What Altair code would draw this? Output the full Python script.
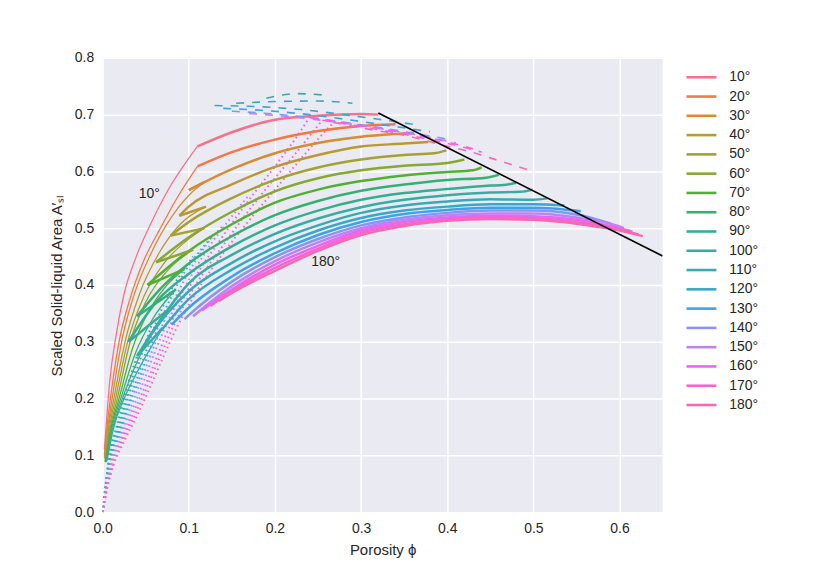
import math
import pandas as pd
import altair as alt

# ---------------- data ----------------
ANGLES = [10, 20, 30, 40, 50, 60, 70, 80, 90, 100, 110, 120, 130, 140, 150, 160, 170, 180]
LABELS = [f"{a}°" for a in ANGLES]

# thick (main) branches
main_010 = [(0.110, 0.644), (0.150, 0.669), (0.200, 0.691), (0.250, 0.698), (0.300, 0.701), (0.320, 0.700)]
main_020 = [(0.110, 0.609), (0.150, 0.634), (0.200, 0.656), (0.250, 0.671), (0.300, 0.680), (0.340, 0.683)]
main_030 = [(0.100, 0.567), (0.150, 0.604), (0.200, 0.632), (0.250, 0.650), (0.300, 0.661), (0.340, 0.666), (0.361, 0.668)]
main_040 = [(0.089, 0.522), (0.100, 0.538), (0.150, 0.577), (0.200, 0.608), (0.250, 0.629), (0.300, 0.644), (0.350, 0.649), (0.378, 0.652)]
main_050 = [(0.079, 0.487), (0.100, 0.511), (0.150, 0.553), (0.200, 0.585), (0.250, 0.607), (0.300, 0.621), (0.350, 0.629), (0.385, 0.632), (0.399, 0.637)]
main_060 = [(0.062, 0.440), (0.100, 0.484), (0.150, 0.529), (0.200, 0.565), (0.250, 0.588), (0.300, 0.602), (0.350, 0.610), (0.400, 0.615), (0.420, 0.621)]
main_070 = [(0.052, 0.400), (0.100, 0.460), (0.150, 0.507), (0.200, 0.545), (0.250, 0.568), (0.300, 0.583), (0.350, 0.593), (0.400, 0.599), (0.430, 0.602), (0.440, 0.607)]
main_080 = [(0.040, 0.345), (0.070, 0.398), (0.100, 0.438), (0.150, 0.486), (0.200, 0.523), (0.250, 0.548), (0.300, 0.566), (0.350, 0.577), (0.400, 0.585), (0.445, 0.589), (0.460, 0.594)]
main_090 = [(0.030, 0.300), (0.065, 0.375), (0.100, 0.420), (0.150, 0.468), (0.200, 0.505), (0.250, 0.531), (0.300, 0.550), (0.350, 0.562), (0.400, 0.569), (0.450, 0.575), (0.465, 0.576), (0.480, 0.580)]
main_100 = [(0.040, 0.275), (0.070, 0.345), (0.100, 0.403), (0.150, 0.453), (0.200, 0.490), (0.250, 0.517), (0.300, 0.537), (0.350, 0.550), (0.400, 0.558), (0.450, 0.563), (0.485, 0.564), (0.499, 0.568)]
main_110 = [(0.050, 0.300), (0.075, 0.350), (0.100, 0.389), (0.150, 0.439), (0.200, 0.477), (0.250, 0.505), (0.300, 0.527), (0.350, 0.540), (0.400, 0.547), (0.450, 0.551), (0.500, 0.550), (0.517, 0.553)]
main_120 = [(0.068, 0.320), (0.100, 0.375), (0.150, 0.427), (0.200, 0.466), (0.250, 0.496), (0.300, 0.518), (0.350, 0.531), (0.400, 0.538), (0.450, 0.542), (0.500, 0.542), (0.536, 0.540)]
main_130 = [(0.080, 0.330), (0.100, 0.360), (0.150, 0.415), (0.200, 0.456), (0.250, 0.488), (0.300, 0.511), (0.350, 0.525), (0.400, 0.532), (0.450, 0.536), (0.500, 0.536), (0.555, 0.530)]
main_140 = [(0.095, 0.340), (0.100, 0.347), (0.150, 0.406), (0.200, 0.449), (0.250, 0.481), (0.300, 0.505), (0.350, 0.519), (0.400, 0.527), (0.450, 0.531), (0.500, 0.531), (0.550, 0.524), (0.590, 0.508)]
main_150 = [(0.105, 0.345), (0.150, 0.398), (0.200, 0.442), (0.250, 0.475), (0.300, 0.500), (0.350, 0.515), (0.400, 0.523), (0.450, 0.526), (0.500, 0.526), (0.550, 0.519), (0.600, 0.503), (0.605, 0.500)]
main_160 = [(0.115, 0.355), (0.150, 0.392), (0.200, 0.436), (0.250, 0.469), (0.300, 0.496), (0.350, 0.511), (0.400, 0.519), (0.450, 0.522), (0.500, 0.521), (0.550, 0.515), (0.600, 0.500), (0.615, 0.494)]
main_170 = [(0.125, 0.363), (0.150, 0.389), (0.200, 0.430), (0.250, 0.464), (0.300, 0.492), (0.350, 0.507), (0.400, 0.516), (0.450, 0.519), (0.500, 0.518), (0.550, 0.511), (0.600, 0.498), (0.622, 0.489)]
main_180 = [(0.135, 0.372), (0.150, 0.386), (0.200, 0.425), (0.250, 0.460), (0.300, 0.488), (0.350, 0.504), (0.400, 0.513), (0.450, 0.516), (0.500, 0.515), (0.550, 0.508), (0.600, 0.496), (0.627, 0.486)]

# short thick "return" pieces (the zig-zags at the left)
zig_030 = [(0.100, 0.567), (0.118, 0.581)]
zig_040 = [(0.089, 0.522), (0.120, 0.538)]
zig_050 = [(0.079, 0.487), (0.118, 0.500)]
zig_060 = [(0.062, 0.440), (0.105, 0.462)]
zig_070 = [(0.052, 0.400), (0.095, 0.428)]
zig_080 = [(0.040, 0.345), (0.085, 0.392)]
zig_090 = [(0.030, 0.300), (0.075, 0.355)]
zig_100 = [(0.040, 0.275), (0.070, 0.325)]

# thin branches near the origin
thin_010 = [(0.002, 0.110), (0.004, 0.151), (0.008, 0.227), (0.016, 0.315), (0.025, 0.385), (0.039, 0.450), (0.054, 0.502), (0.074, 0.562), (0.110, 0.644)]
thin_020 = [(0.002, 0.100), (0.005, 0.150), (0.009, 0.200), (0.019, 0.300), (0.031, 0.372), (0.048, 0.444), (0.066, 0.497), (0.087, 0.555), (0.110, 0.609)]
thin_030 = [(0.002, 0.095), (0.006, 0.150), (0.011, 0.200), (0.022, 0.300), (0.037, 0.385), (0.056, 0.455), (0.080, 0.520), (0.100, 0.558), (0.118, 0.581)]
thin_040 = [(0.003, 0.092), (0.007, 0.150), (0.013, 0.200), (0.026, 0.300), (0.043, 0.385), (0.065, 0.455), (0.090, 0.507), (0.120, 0.538)]
thin_050 = [(0.003, 0.090), (0.008, 0.150), (0.015, 0.200), (0.029, 0.300), (0.048, 0.380), (0.072, 0.440), (0.095, 0.475), (0.118, 0.500)]
thin_060 = [(0.003, 0.088), (0.009, 0.150), (0.017, 0.200), (0.032, 0.300), (0.050, 0.370), (0.075, 0.425), (0.105, 0.462)]
thin_070 = [(0.003, 0.088), (0.010, 0.150), (0.019, 0.200), (0.035, 0.290), (0.052, 0.350), (0.072, 0.395), (0.095, 0.428)]
thin_080 = [(0.004, 0.088), (0.011, 0.150), (0.021, 0.200), (0.038, 0.280), (0.058, 0.340), (0.085, 0.392)]
thin_090 = [(0.004, 0.090), (0.012, 0.150), (0.023, 0.200), (0.040, 0.265), (0.058, 0.315), (0.075, 0.355)]
thin_100 = [(0.005, 0.090), (0.013, 0.150), (0.025, 0.200), (0.043, 0.255), (0.070, 0.325)]

# dotted branches
dot_090 = [(0.000, 0.000), (0.004, 0.056), (0.008, 0.103), (0.016, 0.150), (0.024, 0.196), (0.033, 0.243), (0.041, 0.280)]
dot_100 = [(0.000, 0.000), (0.004, 0.054), (0.008, 0.100), (0.017, 0.148), (0.026, 0.193), (0.035, 0.240), (0.044, 0.285)]
dot_110 = [(0.000, 0.000), (0.004, 0.052), (0.009, 0.098), (0.018, 0.145), (0.027, 0.190), (0.037, 0.238), (0.047, 0.285), (0.057, 0.330)]
dot_120 = [(0.000, 0.000), (0.004, 0.050), (0.009, 0.095), (0.019, 0.142), (0.029, 0.188), (0.040, 0.236), (0.051, 0.286), (0.062, 0.334), (0.075, 0.378), (0.090, 0.418), (0.105, 0.450)]
dot_130 = [(0.000, 0.000), (0.004, 0.048), (0.010, 0.093), (0.020, 0.140), (0.030, 0.185), (0.042, 0.233), (0.054, 0.284), (0.066, 0.333), (0.080, 0.380), (0.096, 0.425), (0.114, 0.462), (0.130, 0.490)]
dot_140 = [(0.000, 0.000), (0.005, 0.048), (0.010, 0.090), (0.021, 0.137), (0.032, 0.182), (0.044, 0.230), (0.057, 0.282), (0.070, 0.332), (0.085, 0.380), (0.102, 0.428), (0.120, 0.470), (0.140, 0.505)]
dot_150 = [(0.000, 0.000), (0.005, 0.046), (0.011, 0.088), (0.022, 0.134), (0.034, 0.179), (0.047, 0.228), (0.060, 0.280), (0.074, 0.330), (0.090, 0.380), (0.108, 0.430), (0.127, 0.475), (0.147, 0.515), (0.168, 0.555)]
dot_160 = [(0.000, 0.000), (0.005, 0.044), (0.011, 0.085), (0.023, 0.131), (0.036, 0.176), (0.050, 0.225), (0.064, 0.277), (0.078, 0.328), (0.095, 0.380), (0.114, 0.430), (0.134, 0.474), (0.153, 0.515), (0.174, 0.558), (0.194, 0.597), (0.212, 0.633), (0.228, 0.667), (0.240, 0.695)]
dot_170 = [(0.000, 0.000), (0.005, 0.042), (0.012, 0.083), (0.024, 0.128), (0.038, 0.173), (0.052, 0.222), (0.067, 0.275), (0.082, 0.327), (0.100, 0.380), (0.120, 0.428), (0.140, 0.470), (0.160, 0.512), (0.182, 0.555), (0.202, 0.592), (0.222, 0.628), (0.240, 0.662), (0.255, 0.690)]
dot_180 = [(0.000, 0.000), (0.005, 0.040), (0.012, 0.080), (0.025, 0.125), (0.040, 0.170), (0.055, 0.220), (0.070, 0.272), (0.086, 0.325), (0.105, 0.378), (0.125, 0.425), (0.145, 0.466), (0.167, 0.508), (0.190, 0.550), (0.210, 0.586), (0.230, 0.622), (0.250, 0.657), (0.268, 0.686)]

# dashed branches at the top
dash_100 = [(0.190, 0.729), (0.225, 0.737), (0.260, 0.734)]
dash_110 = [(0.155, 0.720), (0.200, 0.723), (0.250, 0.724), (0.290, 0.720)]
dash_120 = [(0.130, 0.716), (0.180, 0.714), (0.230, 0.709), (0.280, 0.700), (0.320, 0.692), (0.360, 0.683)]
dash_130 = [(0.140, 0.711), (0.190, 0.707), (0.240, 0.700), (0.290, 0.690), (0.340, 0.679), (0.380, 0.670)]
dash_140 = [(0.150, 0.706), (0.200, 0.701), (0.250, 0.693), (0.300, 0.682), (0.350, 0.670), (0.400, 0.657)]
dash_150 = [(0.170, 0.702), (0.220, 0.696), (0.270, 0.687), (0.320, 0.676), (0.370, 0.663), (0.410, 0.650)]
dash_160 = [(0.240, 0.695), (0.280, 0.686), (0.320, 0.676), (0.360, 0.665), (0.400, 0.652), (0.430, 0.640)]
dash_170 = [(0.255, 0.690), (0.300, 0.679), (0.340, 0.668), (0.380, 0.656), (0.420, 0.642), (0.440, 0.634)]
dash_180 = [(0.268, 0.686), (0.310, 0.674), (0.355, 0.662), (0.393, 0.647), (0.428, 0.634), (0.460, 0.619), (0.500, 0.600)]

# black boundary line
boundary_x = [0.320, 0.650]
boundary_y = [0.703, 0.451]

# annotations
annot_text = ["10°", "180°"]
annot_x = [0.054, 0.259]
annot_y = [0.560, 0.440]

MAIN = {10: main_010, 20: main_020, 30: main_030, 40: main_040, 50: main_050, 60: main_060,
        70: main_070, 80: main_080, 90: main_090, 100: main_100, 110: main_110, 120: main_120,
        130: main_130, 140: main_140, 150: main_150, 160: main_160, 170: main_170, 180: main_180}
ZIG = {30: zig_030, 40: zig_040, 50: zig_050, 60: zig_060, 70: zig_070, 80: zig_080, 90: zig_090, 100: zig_100}
THIN = {10: thin_010, 20: thin_020, 30: thin_030, 40: thin_040, 50: thin_050, 60: thin_060,
        70: thin_070, 80: thin_080, 90: thin_090, 100: thin_100}
DOT = {90: dot_090, 100: dot_100, 110: dot_110, 120: dot_120, 130: dot_130, 140: dot_140,
       150: dot_150, 160: dot_160, 170: dot_170, 180: dot_180}
DASH = {100: dash_100, 110: dash_110, 120: dash_120, 130: dash_130, 140: dash_140,
        150: dash_150, 160: dash_160, 170: dash_170, 180: dash_180}

# ---------------- seaborn husl palette (style) ----------------
_M = [[3.2406, -1.5372, -0.4986], [-0.9689, 1.8758, 0.0415], [0.0557, -0.2040, 1.0570]]
_REF_U, _REF_V, _KAPPA, _EPS = 0.19784, 0.46834, 903.3, 0.008856


def _max_chroma(L, H):
    hr = math.radians(H)
    sinH, cosH = math.sin(hr), math.cos(hr)
    sub1 = (L + 16) ** 3 / 1560896.0
    sub2 = sub1 if sub1 > _EPS else L / _KAPPA
    result = float("inf")
    for m1, m2, m3 in _M:
        top = (0.99915 * m1 + 1.05122 * m2 + 1.14460 * m3) * sub2
        rbottom = 0.86330 * m3 - 0.17266 * m2
        lbottom = 0.12949 * m3 - 0.38848 * m1
        bottom = (rbottom * sinH + lbottom * cosH) * sub2
        for t in (0.0, 1.0):
            C = L * (top - 1.05122 * t) / (bottom + 0.17266 * sinH * t)
            if 0.0 < C < result:
                result = C
    return result


def _husl_to_hex(h, s, l):
    C = _max_chroma(l, h) / 100.0 * s
    hr = math.radians(h)
    U, V = math.cos(hr) * C, math.sin(hr) * C
    Y = ((l + 16) / 116.0) ** 3 if l > 8 else l / _KAPPA
    varU = U / (13 * l) + _REF_U
    varV = V / (13 * l) + _REF_V
    X = -(9 * Y * varU) / ((varU - 4) * varV - varU * varV)
    Z = (9 * Y - 15 * varV * Y - varV * X) / (3 * varV)
    out = []
    for row in _M:
        c = row[0] * X + row[1] * Y + row[2] * Z
        c = 12.92 * c if c <= 0.0031308 else 1.055 * c ** (1 / 2.4) - 0.055
        c = min(max(c, 0.0), 1.0)
        out.append(int(round(c * 255)))
    return "#%02x%02x%02x" % tuple(out)


_n = len(ANGLES)
COLORS = [_husl_to_hex(((i / _n + 0.01) % 1) * 359, 0.9 * 99, 0.65 * 99) for i in range(_n)]
CMAP = dict(zip(ANGLES, COLORS))


def frame(groups, tag):
    rows = []
    for a, pts in groups.items():
        for i, (x, y) in enumerate(pts):
            rows.append({"angle": f"{a}°", "hex": CMAP[a], "seg": f"{tag}{a}", "i": i, "x": x, "y": y})
    return pd.DataFrame(rows)


main_df = pd.concat([frame(MAIN, "m"), frame(ZIG, "z")], ignore_index=True)
thin_df = frame(THIN, "t")
dot_df = frame(DOT, "d")
dash_df = frame(DASH, "s")
bound_df = pd.DataFrame({"x": boundary_x, "y": boundary_y, "i": [0, 1]})
annot_df = pd.DataFrame({"t": annot_text, "x": annot_x, "y": annot_y})

FONT = "Liberation Sans"
TXT = "#262626"

X = alt.X("x:Q", scale=alt.Scale(domain=[0, 0.65], nice=False, zero=False),
          axis=alt.Axis(values=[0, 0.1, 0.2, 0.3, 0.4, 0.5, 0.6], format=".1f", labelFlush=False,
                        title="Porosity ϕ", titlePadding=7, labelPadding=9))
Y = alt.Y("y:Q", scale=alt.Scale(domain=[0, 0.8], nice=False),
          axis=alt.Axis(values=[0, 0.1, 0.2, 0.3, 0.4, 0.5, 0.6, 0.7, 0.8], format=".1f", labelFlush=False,
                        title="Scaled Solid-liquid Area A′ₛₗ", titlePadding=10, labelPadding=9))

thin = alt.Chart(thin_df).mark_line(strokeWidth=1.3, interpolate="monotone", clip=True).encode(
    x=X, y=Y, color=alt.Color("hex:N", scale=None), detail="seg:N", order="i:Q")

dots = alt.Chart(dot_df).mark_line(strokeWidth=2, strokeDash=[1.6, 3.2], interpolate="monotone", clip=True).encode(
    x=X, y=Y, color=alt.Color("hex:N", scale=None), detail="seg:N", order="i:Q")

main = alt.Chart(main_df).mark_line(strokeWidth=2.5, interpolate="monotone", clip=True).encode(
    x=X, y=Y,
    color=alt.Color("angle:N", scale=alt.Scale(domain=LABELS, range=COLORS),
                    legend=alt.Legend(title=None, orient="none", legendX=589.5, legendY=8,
                                      symbolType="M-1.5,0H1.5", symbolSize=400, symbolStrokeWidth=2.6,
                                      labelFontSize=14, labelFont=FONT, labelColor=TXT,
                                      labelOffset=16.5, rowPadding=0.35, padding=0)),
    detail="seg:N", order="i:Q")

dashes = alt.Chart(dash_df).mark_line(strokeWidth=1.6, strokeDash=[8, 8], interpolate="monotone", clip=True).encode(
    x=X, y=Y, color=alt.Color("hex:N", scale=None), detail="seg:N", order="i:Q")

bound = alt.Chart(bound_df).mark_line(color="black", strokeWidth=1.6, clip=True).encode(x=X, y=Y, order="i:Q")

text = alt.Chart(annot_df).mark_text(font=FONT, fontSize=14, color=TXT, align="center", baseline="middle").encode(
    x=X, y=Y, text="t:N")

chart = alt.layer(thin, dots, main, dashes, bound, text).properties(
    width=562, height=456,
    autosize=alt.AutoSizeParams(type="none"),
    padding={"left": 95, "top": 49, "right": 160, "bottom": 50},
).configure_view(fill="#EAEAF2", strokeWidth=0).configure_axis(
    grid=True, gridColor="white", gridWidth=1.5, domain=False, ticks=False,
    labelFont=FONT, labelFontSize=14, labelColor=TXT,
    titleFont=FONT, titleFontSize=15, titleFontWeight="normal", titleColor=TXT,
)

chart.save("out.html", embed_options={"renderer": "svg", "actions": False})
